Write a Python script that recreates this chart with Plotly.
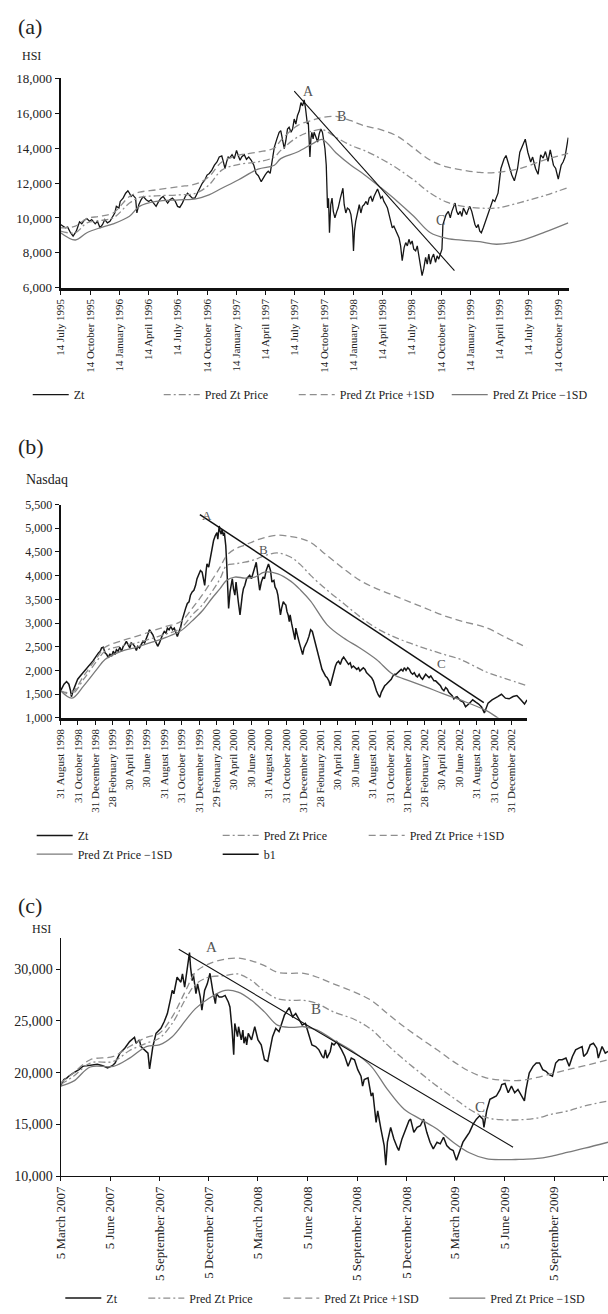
import plotly.graph_objects as go

W, H = 608, 1314
FONT = "Liberation Serif"

# ---------------- (a) HSI, July 1995 - November 1999 ----------------
a_zt = [
    ("1995-07-14", 9627), ("1995-07-29", 9438), ("1995-08-05", 9476), ("1995-08-14", 9155),
    ("1995-08-22", 8966), ("1995-09-01", 9249), ("1995-09-11", 9778), ("1995-09-18", 9665),
    ("1995-09-25", 9854), ("1995-10-04", 9967), ("1995-10-12", 9816), ("1995-10-19", 9910),
    ("1995-10-30", 9665), ("1995-11-06", 9816), ("1995-11-14", 9438), ("1995-11-22", 9627),
    ("1995-11-29", 9910), ("1995-12-07", 9721), ("1995-12-15", 9816), ("1995-12-23", 10099),
    ("1995-12-30", 10288), ("1996-01-04", 10666), ("1996-01-12", 10571), ("1996-01-16", 10949),
    ("1996-01-25", 11138), ("1996-02-02", 11421), ("1996-02-09", 11554), ("1996-02-14", 11421),
    ("1996-02-19", 11233), ("1996-02-24", 11327), ("1996-03-04", 11138), ("1996-03-08", 10288),
    ("1996-03-14", 10760), ("1996-03-21", 11044), ("1996-03-28", 11233), ("1996-04-06", 11044),
    ("1996-04-14", 10949), ("1996-04-21", 11044), ("1996-04-28", 10855), ("1996-05-07", 10666),
    ("1996-05-15", 10949), ("1996-05-22", 11138), ("1996-05-29", 11233), ("1996-06-05", 11044),
    ("1996-06-12", 10855), ("1996-06-19", 11044), ("1996-06-27", 11138), ("1996-07-06", 10949),
    ("1996-07-13", 10666), ("1996-07-20", 10609), ("1996-07-28", 10855), ("1996-08-06", 11233),
    ("1996-08-13", 11421), ("1996-08-20", 11289), ("1996-08-28", 11138), ("1996-09-05", 11138),
    ("1996-09-12", 11421), ("1996-09-20", 11705), ("1996-09-28", 11988), ("1996-10-06", 12177),
    ("1996-10-13", 12460), ("1996-10-20", 12555), ("1996-10-28", 12744), ("1996-11-05", 13027),
    ("1996-11-13", 13216), ("1996-11-20", 13499), ("1996-11-28", 13556), ("1996-12-03", 13216),
    ("1996-12-08", 12838), ("1996-12-13", 13216), ("1996-12-18", 13499), ("1996-12-23", 13443),
    ("1996-12-30", 13632), ("1997-01-06", 13405), ("1997-01-13", 13877), ("1997-01-18", 13594),
    ("1997-01-24", 13310), ("1997-01-29", 13499), ("1997-02-06", 13632), ("1997-02-13", 13367),
    ("1997-02-20", 13499), ("1997-02-28", 13310), ("1997-03-08", 13027), ("1997-03-15", 12555),
    ("1997-03-22", 12423), ("1997-03-31", 12082), ("1997-04-05", 12271), ("1997-04-12", 12460),
    ("1997-04-18", 12612), ("1997-04-22", 12687), ("1997-04-28", 12555), ("1997-05-05", 13405),
    ("1997-05-11", 14066), ("1997-05-19", 14538), ("1997-05-26", 14916), ("1997-05-31", 15011),
    ("1997-06-06", 14538), ("1997-06-11", 13972), ("1997-06-16", 14444), ("1997-06-21", 15105),
    ("1997-06-26", 15200), ("1997-07-02", 14916), ("1997-07-07", 15105), ("1997-07-12", 15672),
    ("1997-07-17", 15389), ("1997-07-22", 15860), ("1997-07-28", 16144), ("1997-08-02", 16616),
    ("1997-08-07", 16427), ("1997-08-12", 16767), ("1997-08-16", 16333), ("1997-08-20", 15766),
    ("1997-08-22", 15389), ("1997-08-25", 15483), ("1997-08-30", 13499), ("1997-09-02", 14538),
    ("1997-09-05", 14916), ("1997-09-09", 14538), ("1997-09-12", 14916), ("1997-09-18", 14633),
    ("1997-09-23", 14350), ("1997-09-28", 14822), ("1997-10-03", 15105), ("1997-10-08", 14916),
    ("1997-10-11", 14633), ("1997-10-16", 13972), ("1997-10-20", 13027), ("1997-10-24", 10571),
    ("1997-10-27", 11138), ("1997-10-30", 9155), ("1997-11-03", 10760), ("1997-11-07", 11138),
    ("1997-11-11", 10382), ("1997-11-16", 10005), ("1997-11-22", 10382), ("1997-11-26", 10571),
    ("1997-12-03", 11138), ("1997-12-07", 11421), ("1997-12-11", 11705), ("1997-12-15", 10760),
    ("1997-12-20", 10288), ("1997-12-25", 10571), ("1997-12-31", 10477), ("1998-01-05", 10194),
    ("1998-01-10", 9438), ("1998-01-13", 8116), ("1998-01-16", 9249), ("1998-01-20", 9816),
    ("1998-01-26", 10382), ("1998-01-31", 10760), ("1998-02-05", 10288), ("1998-02-10", 10666),
    ("1998-02-15", 10760), ("1998-02-21", 10949), ("1998-02-26", 10760), ("1998-03-03", 11138),
    ("1998-03-08", 11233), ("1998-03-13", 10949), ("1998-03-18", 11233), ("1998-03-24", 11516),
    ("1998-03-29", 11667), ("1998-04-03", 11421), ("1998-04-08", 11138), ("1998-04-13", 11233),
    ("1998-04-18", 10949), ("1998-04-24", 10760), ("1998-04-29", 10571), ("1998-05-04", 10194),
    ("1998-05-09", 9816), ("1998-05-14", 9438), ("1998-05-19", 9532), ("1998-05-25", 9249),
    ("1998-05-30", 9060), ("1998-06-04", 8871), ("1998-06-09", 8399), ("1998-06-14", 7549),
    ("1998-06-20", 8305), ("1998-06-25", 8588), ("1998-06-30", 8399), ("1998-07-05", 8777),
    ("1998-07-10", 8494), ("1998-07-15", 8683), ("1998-07-20", 8210), ("1998-07-26", 8116),
    ("1998-07-31", 8399), ("1998-08-05", 7832), ("1998-08-10", 7360), ("1998-08-15", 6699),
    ("1998-08-20", 7077), ("1998-08-26", 7738), ("1998-08-31", 7360), ("1998-09-05", 7927),
    ("1998-09-10", 7360), ("1998-09-15", 7738), ("1998-09-20", 7927), ("1998-09-26", 7455),
    ("1998-10-01", 7832), ("1998-10-06", 7643), ("1998-10-11", 7927), ("1998-10-16", 8210),
    ("1998-10-19", 9627), ("1998-10-23", 9816), ("1998-10-29", 10194), ("1998-11-05", 10382),
    ("1998-11-11", 10005), ("1998-11-16", 10382), ("1998-11-21", 10571), ("1998-11-26", 10855),
    ("1998-12-01", 10382), ("1998-12-06", 10194), ("1998-12-12", 10382), ("1998-12-17", 10099),
    ("1998-12-22", 10571), ("1998-12-27", 10382), ("1999-01-01", 10194), ("1999-01-06", 10477),
    ("1999-01-11", 10666), ("1999-01-17", 10382), ("1999-01-22", 10005), ("1999-01-27", 9627),
    ("1999-02-01", 9438), ("1999-02-06", 9627), ("1999-02-11", 9249), ("1999-02-16", 9155),
    ("1999-02-22", 9438), ("1999-02-27", 9721), ("1999-03-04", 10005), ("1999-03-09", 10194),
    ("1999-03-14", 10571), ("1999-03-19", 10760), ("1999-03-24", 11044), ("1999-03-30", 10949),
    ("1999-04-04", 11233), ("1999-04-09", 11421), ("1999-04-18", 12839), ("1999-04-28", 13398),
    ("1999-05-04", 13584), ("1999-05-13", 13025), ("1999-05-22", 12466), ("1999-05-30", 12130),
    ("1999-06-09", 12839), ("1999-06-16", 13770), ("1999-06-25", 14143), ("1999-07-03", 14516),
    ("1999-07-11", 13770), ("1999-07-20", 13212), ("1999-07-26", 13491), ("1999-08-04", 12839),
    ("1999-08-12", 12503), ("1999-08-20", 13621), ("1999-08-28", 13435), ("1999-09-04", 13808),
    ("1999-09-12", 13249), ("1999-09-19", 13900), ("1999-09-29", 13025), ("1999-10-06", 12839),
    ("1999-10-14", 12224), ("1999-10-23", 13025), ("1999-10-29", 13212), ("1999-11-04", 13491),
    ("1999-11-14", 14609),
]
a_band_dates = [
    "1995-07-14", "1995-08-29", "1995-10-04", "1995-11-14", "1995-12-25", "1996-02-14",
    "1996-03-16", "1996-05-07", "1996-07-18", "1996-09-08", "1996-10-19", "1996-11-28",
    "1997-01-18", "1997-03-21", "1997-05-11", "1997-05-31", "1997-07-22", "1997-09-12",
    "1997-10-08", "1997-11-19", "1998-01-05", "1998-02-15", "1998-04-08", "1998-05-30",
    "1998-07-20", "1998-09-10", "1998-10-31", "1998-12-22", "1999-02-11", "1999-04-04",
    "1999-06-19", "1999-09-04", "1999-11-14",
]
a_pred = [9249, 9155, 9721, 9854, 10005, 10855, 11176, 11270, 11327, 11421, 11894, 12744,
          13065, 13216, 13499, 13877, 14633, 15011, 15067, 14633, 14161, 13877, 13405, 12838,
          12177, 11421, 10911, 10666, 10571, 10571, 10900, 11300, 11750]
a_up = [9438, 9532, 9967, 10099, 10288, 11233, 11478, 11610, 11799, 11950, 12366, 13216,
        13594, 13783, 14010, 14444, 15294, 15634, 15766, 15823, 15577, 15294, 15067, 14689,
        14010, 13310, 12933, 12744, 12612, 12612, 12850, 13350, 13700]
a_lo = [9155, 8739, 9155, 9438, 9665, 10099, 10666, 10949, 11044, 11100, 11327, 11705,
        12177, 12800, 13027, 13405, 13783, 14312, 14500, 13745, 13027, 12498, 11742, 10949,
        10099, 9155, 8834, 8720, 8645, 8494, 8700, 9200, 9720]
a_trend_dates = ["1997-07-12", "1998-11-24"]
a_trend_vals = [17277, 6982]
a_mark_text = ["A", "B", "C"]
a_mark_dates = ["1997-08-27", "1997-12-07", "1998-10-11"]
a_mark_vals = [17277, 15823, 9854]
a_tick_dates = ["1995-07-14", "1995-10-14", "1996-01-14", "1996-04-14", "1996-07-14",
                "1996-10-14", "1997-01-14", "1997-04-14", "1997-07-14", "1997-10-14",
                "1998-01-14", "1998-04-14", "1998-07-14", "1998-10-14", "1999-01-14",
                "1999-04-14", "1999-07-14", "1999-10-14"]
a_tick_text = ["14 July 1995", "14 October 1995", "14 January 1996", "14 April 1996",
               "14 July 1996", "14 October 1996", "14 January 1997", "14 April 1997",
               "14 July 1997", "14 October 1997", "14 January 1998", "14 April 1998",
               "14 July 1998", "14 October 1998", "14 January 1999", "14 April 1999",
               "14 July 1999", "14 October 1999"]

# ---------------- (b) Nasdaq, August 1998 - February 2003 ----------------
b_zt = [
    ("1998-08-31", 1570), ("1998-09-06", 1640), ("1998-09-12", 1709), ("1998-09-21", 1765),
    ("1998-09-29", 1709), ("1998-10-05", 1570), ("1998-10-08", 1445), ("1998-10-14", 1570),
    ("1998-10-22", 1709), ("1998-10-30", 1814), ("1998-11-08", 1883), ("1998-11-18", 1953),
    ("1998-11-26", 2022), ("1998-12-04", 2057), ("1998-12-13", 2127), ("1998-12-22", 2196),
    ("1998-12-30", 2266), ("1999-01-05", 2335), ("1999-01-11", 2370), ("1999-01-17", 2405),
    ("1999-01-22", 2474), ("1999-01-28", 2488), ("1999-02-03", 2370), ("1999-02-09", 2335),
    ("1999-02-15", 2266), ("1999-02-20", 2349), ("1999-02-26", 2301), ("1999-03-04", 2405),
    ("1999-03-10", 2335), ("1999-03-15", 2440), ("1999-03-21", 2405), ("1999-03-27", 2488),
    ("1999-04-02", 2405), ("1999-04-08", 2509), ("1999-04-13", 2544), ("1999-04-19", 2614),
    ("1999-04-25", 2544), ("1999-05-01", 2474), ("1999-05-06", 2579), ("1999-05-12", 2558),
    ("1999-05-18", 2509), ("1999-05-24", 2419), ("1999-05-29", 2509), ("1999-06-04", 2474),
    ("1999-06-10", 2544), ("1999-06-16", 2614), ("1999-06-22", 2579), ("1999-06-27", 2683),
    ("1999-07-03", 2753), ("1999-07-09", 2857), ("1999-07-15", 2808), ("1999-07-21", 2753),
    ("1999-07-26", 2669), ("1999-08-01", 2579), ("1999-08-07", 2509), ("1999-08-13", 2579),
    ("1999-08-18", 2683), ("1999-08-24", 2753), ("1999-08-30", 2822), ("1999-09-05", 2787),
    ("1999-09-10", 2892), ("1999-09-16", 2857), ("1999-09-22", 2927), ("1999-09-28", 2857),
    ("1999-10-04", 2892), ("1999-10-09", 2822), ("1999-10-15", 2718), ("1999-10-21", 2822),
    ("1999-10-27", 2927), ("1999-11-01", 3066), ("1999-11-07", 3205), ("1999-11-13", 3309),
    ("1999-11-19", 3413), ("1999-11-25", 3448), ("1999-11-30", 3587), ("1999-12-06", 3657),
    ("1999-12-12", 3692), ("1999-12-18", 3796), ("1999-12-23", 3935), ("1999-12-29", 4005),
    ("2000-01-04", 4109), ("2000-01-10", 4074), ("2000-01-16", 3865), ("2000-01-19", 3796),
    ("2000-01-24", 4109), ("2000-01-27", 4248), ("2000-02-02", 4178), ("2000-02-08", 4387),
    ("2000-02-13", 4561), ("2000-02-19", 4735), ("2000-02-25", 4839), ("2000-03-02", 4909),
    ("2000-03-05", 4770), ("2000-03-10", 5048), ("2000-03-13", 4943), ("2000-03-17", 4874),
    ("2000-03-20", 4978), ("2000-03-25", 4839), ("2000-03-28", 4909), ("2000-04-02", 4631),
    ("2000-04-05", 4283), ("2000-04-09", 3865), ("2000-04-12", 3309), ("2000-04-17", 3657),
    ("2000-04-20", 3796), ("2000-04-25", 3935), ("2000-04-29", 3726), ("2000-05-04", 3587),
    ("2000-05-08", 3865), ("2000-05-11", 3657), ("2000-05-16", 3448), ("2000-05-22", 3170),
    ("2000-05-25", 3379), ("2000-05-30", 3587), ("2000-06-03", 3726), ("2000-06-08", 3796),
    ("2000-06-14", 3935), ("2000-06-20", 3970), ("2000-06-25", 4005), ("2000-07-01", 3935),
    ("2000-07-07", 4039), ("2000-07-13", 4178), ("2000-07-18", 4283), ("2000-07-24", 4005),
    ("2000-07-30", 3692), ("2000-08-05", 3865), ("2000-08-11", 3970), ("2000-08-16", 3935),
    ("2000-08-22", 4109), ("2000-08-30", 4248), ("2000-09-06", 4109), ("2000-09-11", 3865),
    ("2000-09-18", 3900), ("2000-09-22", 3761), ("2000-09-28", 3692), ("2000-10-02", 3587),
    ("2000-10-07", 3379), ("2000-10-11", 3170), ("2000-10-15", 3309), ("2000-10-21", 3448),
    ("2000-10-25", 3413), ("2000-10-30", 3379), ("2000-11-03", 3240), ("2000-11-07", 3170),
    ("2000-11-11", 3031), ("2000-11-14", 3170), ("2000-11-19", 2996), ("2000-11-23", 2892),
    ("2000-11-26", 2753), ("2000-12-01", 2648), ("2000-12-04", 2892), ("2000-12-08", 2753),
    ("2000-12-12", 2683), ("2000-12-18", 2544), ("2000-12-24", 2440), ("2000-12-28", 2335),
    ("2001-01-02", 2474), ("2001-01-08", 2544), ("2001-01-13", 2614), ("2001-01-19", 2718),
    ("2001-01-25", 2857), ("2001-01-31", 2822), ("2001-02-06", 2683), ("2001-02-11", 2544),
    ("2001-02-17", 2405), ("2001-02-23", 2266), ("2001-03-01", 2127), ("2001-03-06", 2022),
    ("2001-03-12", 1953), ("2001-03-18", 1883), ("2001-03-24", 1848), ("2001-03-30", 1779),
    ("2001-04-04", 1675), ("2001-04-10", 1814), ("2001-04-16", 1988), ("2001-04-22", 2092),
    ("2001-04-27", 2161), ("2001-05-03", 2196), ("2001-05-09", 2127), ("2001-05-15", 2231),
    ("2001-05-21", 2280), ("2001-05-26", 2231), ("2001-06-01", 2196), ("2001-06-07", 2127),
    ("2001-06-13", 2161), ("2001-06-18", 2057), ("2001-06-24", 2092), ("2001-06-30", 2057),
    ("2001-07-06", 2022), ("2001-07-12", 2057), ("2001-07-17", 1988), ("2001-07-23", 2022),
    ("2001-07-29", 2057), ("2001-08-04", 2022), ("2001-08-09", 1953), ("2001-08-15", 1918),
    ("2001-08-21", 1883), ("2001-08-27", 1848), ("2001-09-02", 1779), ("2001-09-07", 1675),
    ("2001-09-13", 1570), ("2001-09-19", 1487), ("2001-09-25", 1431), ("2001-09-30", 1536),
    ("2001-10-06", 1605), ("2001-10-12", 1675), ("2001-10-18", 1709), ("2001-10-23", 1744),
    ("2001-10-29", 1779), ("2001-11-04", 1814), ("2001-11-10", 1883), ("2001-11-16", 1918),
    ("2001-11-21", 1918), ("2001-11-27", 1953), ("2001-12-03", 1988), ("2001-12-09", 2022),
    ("2001-12-15", 1988), ("2001-12-20", 2057), ("2001-12-26", 2002), ("2002-01-01", 2057),
    ("2002-01-07", 2022), ("2002-01-12", 1953), ("2002-01-18", 1918), ("2002-01-24", 1953),
    ("2002-01-30", 1883), ("2002-02-04", 1862), ("2002-02-10", 1918), ("2002-02-16", 1848),
    ("2002-02-22", 1814), ("2002-02-28", 1883), ("2002-03-05", 1918), ("2002-03-11", 1883),
    ("2002-03-17", 1848), ("2002-03-23", 1883), ("2002-03-29", 1814), ("2002-04-03", 1779),
    ("2002-04-09", 1779), ("2002-04-15", 1744), ("2002-04-21", 1709), ("2002-04-26", 1675),
    ("2002-05-02", 1605), ("2002-05-08", 1570), ("2002-05-14", 1640), ("2002-05-20", 1605),
    ("2002-05-25", 1536), ("2002-05-31", 1501), ("2002-06-06", 1466), ("2002-06-12", 1396),
    ("2002-06-17", 1431), ("2002-06-23", 1445), ("2002-06-29", 1396), ("2002-07-05", 1362),
    ("2002-07-15", 1330), ("2002-07-23", 1230), ("2002-08-05", 1300), ("2002-08-17", 1379),
    ("2002-08-28", 1330), ("2002-09-07", 1290), ("2002-09-17", 1230), ("2002-09-27", 1103),
    ("2002-10-10", 1310), ("2002-10-24", 1379), ("2002-11-13", 1448), ("2002-11-26", 1497),
    ("2002-12-10", 1414), ("2002-12-23", 1400), ("2003-01-06", 1448), ("2003-01-19", 1469),
    ("2003-02-02", 1379), ("2003-02-15", 1290), ("2003-02-24", 1379),
]
b_band_dates = [
    "1998-08-31", "1998-10-10", "1998-11-20", "1999-01-05", "1999-02-03", "1999-03-27",
    "1999-05-24", "1999-07-21", "1999-09-05", "1999-10-27", "1999-12-06", "2000-01-10",
    "2000-02-13", "2000-03-13", "2000-04-05", "2000-05-04", "2000-06-08", "2000-07-13",
    "2000-08-16", "2000-10-02", "2000-11-17", "2000-12-21", "2001-01-25", "2001-03-24",
    "2001-05-21", "2001-07-17", "2001-09-13", "2001-11-10", "2002-01-07", "2002-03-05",
    "2002-05-02", "2002-07-05", "2002-10-04", "2002-12-10", "2003-02-24",
]
b_pred = [1570, 1501, 1814, 2196, 2405, 2509, 2579, 2683, 2767, 2892, 3170, 3379, 3657,
          3935, 4213, 4248, 4283, 4338, 4422, 4478, 4387, 4227, 4005, 3692, 3413, 3135,
          2892, 2718, 2579, 2461, 2349, 2231, 1966, 1828, 1676]
b_up = [1570, 1536, 1883, 2266, 2488, 2614, 2718, 2836, 2927, 3031, 3309, 3587, 3900,
        4178, 4422, 4561, 4644, 4735, 4804, 4853, 4825, 4784, 4700, 4422, 4144, 3900,
        3726, 3587, 3448, 3309, 3170, 3045, 2900, 2700, 2480]
b_lo = [1570, 1417, 1675, 2022, 2231, 2391, 2488, 2600, 2697, 2836, 3045, 3253, 3518,
        3726, 3900, 3970, 3949, 3970, 4074, 4039, 3879, 3692, 3462, 2961, 2683, 2474,
        2231, 1918, 1779, 1654, 1515, 1376, 1150, 900, 700]
b_trend_dates = ["2000-01-02", "2002-09-25"]
b_trend_vals = [5290, 1320]
b_mark_text = ["A", "B", "C"]
b_mark_dates = ["2000-01-27", "2000-08-13", "2002-04-29"]
b_mark_vals = [5270, 4561, 2141]
b_tick_dates = ["1998-08-31", "1998-10-31", "1998-12-31", "1999-02-28", "1999-04-30",
                "1999-06-30", "1999-08-31", "1999-10-31", "1999-12-31", "2000-02-29",
                "2000-04-30", "2000-06-30", "2000-08-31", "2000-10-31", "2000-12-31",
                "2001-02-28", "2001-04-30", "2001-06-30", "2001-08-31", "2001-10-31",
                "2001-12-31", "2002-02-28", "2002-04-30", "2002-06-30", "2002-08-31",
                "2002-10-31", "2002-12-31"]
b_tick_text = ["31 August 1998", "31 October 1998", "31 December 1998", "28 February 1999",
               "30 April 1999", "30 June 1999", "31 August 1999", "31 October 1999",
               "31 December 1999", "29 February 2000", "30 April 2000", "30 June 2000",
               "31 August 2000", "31 October 2000", "31 December 2000", "28 February 2001",
               "30 April 2001", "30 June 2001", "31 August 2001", "31 October 2001",
               "31 December 2001", "28 February 2002", "30 April 2002", "30 June 2002",
               "31 August 2002", "31 October 2002", "31 December 2002"]

# ---------------- (c) HSI, March 2007 - December 2009 ----------------
c_zt = [
    ("2007-03-05", 18695), ("2007-03-11", 19332), ("2007-03-17", 19491), ("2007-03-20", 19651),
    ("2007-03-29", 19969), ("2007-04-08", 20288), ("2007-04-15", 20606), ("2007-04-24", 20670),
    ("2007-05-04", 20765), ("2007-05-12", 20797), ("2007-05-22", 20670), ("2007-05-31", 20447),
    ("2007-06-09", 20670), ("2007-06-14", 20925), ("2007-06-23", 21880), ("2007-07-02", 22358),
    ("2007-07-11", 22995), ("2007-07-20", 23409), ("2007-07-23", 22836), ("2007-07-29", 23154),
    ("2007-08-01", 22517), ("2007-08-07", 22199), ("2007-08-14", 21880), ("2007-08-17", 20351),
    ("2007-08-23", 22517), ("2007-08-29", 23791), ("2007-09-07", 24269), ("2007-09-13", 24906),
    ("2007-09-19", 25702), ("2007-09-25", 27135), ("2007-09-28", 27932), ("2007-10-01", 27613),
    ("2007-10-07", 29206), ("2007-10-14", 28728), ("2007-10-17", 29524), ("2007-10-21", 28250),
    ("2007-10-28", 30798), ("2007-10-30", 31594), ("2007-11-01", 30161), ("2007-11-04", 28887),
    ("2007-11-06", 29524), ("2007-11-11", 27613), ("2007-11-14", 28569), ("2007-11-19", 27294),
    ("2007-11-22", 26020), ("2007-11-27", 27932), ("2007-12-02", 28569), ("2007-12-07", 29588),
    ("2007-12-12", 27932), ("2007-12-17", 26658), ("2007-12-19", 27613), ("2007-12-24", 27294),
    ("2007-12-29", 27294), ("2008-01-04", 27454), ("2008-01-10", 26817), ("2008-01-13", 26339),
    ("2008-01-17", 24110), ("2008-01-20", 21721), ("2008-01-22", 24747), ("2008-01-27", 23473),
    ("2008-01-29", 24429), ("2008-02-03", 23154), ("2008-02-06", 24110), ("2008-02-08", 22836),
    ("2008-02-11", 23473), ("2008-02-13", 22676), ("2008-02-16", 23791), ("2008-02-22", 23154),
    ("2008-02-28", 24429), ("2008-03-05", 23154), ("2008-03-11", 22676), ("2008-03-14", 22039),
    ("2008-03-17", 21243), ("2008-03-23", 21084), ("2008-03-26", 21880), ("2008-04-01", 23473),
    ("2008-04-07", 24269), ("2008-04-13", 23950), ("2008-04-16", 24429), ("2008-04-23", 25543),
    ("2008-05-02", 26275), ("2008-05-08", 25384), ("2008-05-14", 25702), ("2008-05-20", 25065),
    ("2008-05-26", 24587), ("2008-06-01", 24747), ("2008-06-07", 23791), ("2008-06-13", 22676),
    ("2008-06-20", 22517), ("2008-06-26", 22199), ("2008-07-02", 21562), ("2008-07-05", 21402),
    ("2008-07-08", 22199), ("2008-07-11", 21402), ("2008-07-17", 22039), ("2008-07-20", 22836),
    ("2008-07-24", 22676), ("2008-07-29", 22995), ("2008-08-07", 22199), ("2008-08-13", 21562),
    ("2008-08-19", 20606), ("2008-08-25", 21402), ("2008-08-31", 21243), ("2008-09-06", 20288),
    ("2008-09-12", 19651), ("2008-09-15", 18695), ("2008-09-18", 19332), ("2008-09-25", 19491),
    ("2008-10-01", 17740), ("2008-10-04", 18058), ("2008-10-10", 15192), ("2008-10-13", 16306),
    ("2008-10-19", 14555), ("2008-10-25", 12962), ("2008-10-28", 11051), ("2008-10-31", 13281),
    ("2008-11-06", 14714), ("2008-11-12", 13599), ("2008-11-18", 12803), ("2008-11-21", 12484),
    ("2008-11-27", 13599), ("2008-12-04", 14555), ("2008-12-10", 15351), ("2008-12-13", 15510),
    ("2008-12-19", 14236), ("2008-12-25", 14714), ("2008-12-31", 14873), ("2009-01-06", 15510),
    ("2009-01-12", 14236), ("2009-01-18", 13281), ("2009-01-24", 12644), ("2009-01-31", 13281),
    ("2009-02-06", 13122), ("2009-02-12", 13758), ("2009-02-18", 12962), ("2009-02-24", 12644),
    ("2009-03-02", 12484), ("2009-03-08", 11529), ("2009-03-14", 12484), ("2009-03-20", 13281),
    ("2009-03-26", 13758), ("2009-04-01", 14236), ("2009-04-08", 15032), ("2009-04-14", 15510),
    ("2009-04-20", 15829), ("2009-04-26", 15510), ("2009-04-28", 14714), ("2009-05-03", 16306),
    ("2009-05-09", 17421), ("2009-05-15", 17580), ("2009-05-21", 17740), ("2009-05-28", 18377),
    ("2009-05-31", 18854), ("2009-06-06", 18950), ("2009-06-12", 18058), ("2009-06-18", 18695),
    ("2009-06-24", 18058), ("2009-06-30", 18377), ("2009-07-06", 17740), ("2009-07-12", 17262),
    ("2009-07-15", 18377), ("2009-07-21", 19969), ("2009-07-28", 20606), ("2009-08-03", 20925),
    ("2009-08-09", 20925), ("2009-08-15", 20288), ("2009-08-21", 20128), ("2009-08-27", 19810),
    ("2009-09-02", 19651), ("2009-09-08", 20925), ("2009-09-14", 21243), ("2009-09-20", 21243),
    ("2009-09-27", 21402), ("2009-10-03", 20606), ("2009-10-09", 21562), ("2009-10-15", 22199),
    ("2009-10-21", 22358), ("2009-10-27", 22517), ("2009-10-30", 21562), ("2009-11-05", 21880),
    ("2009-11-11", 22676), ("2009-11-17", 22836), ("2009-11-23", 22358), ("2009-11-26", 21402),
    ("2009-12-03", 22517), ("2009-12-09", 21880), ("2009-12-14", 22039),
]
c_band_dates = [
    "2007-03-05", "2007-03-29", "2007-04-29", "2007-06-11", "2007-07-11", "2007-08-11",
    "2007-09-04", "2007-09-28", "2007-10-23", "2007-11-10", "2007-12-04", "2008-01-04",
    "2008-01-28", "2008-02-22", "2008-03-17", "2008-04-10", "2008-05-05", "2008-05-29",
    "2008-06-23", "2008-07-23", "2008-08-31", "2008-10-01", "2008-10-31", "2008-12-01",
    "2008-12-31", "2009-01-31", "2009-03-02", "2009-04-01", "2009-05-02", "2009-06-01",
    "2009-07-02", "2009-08-01", "2009-09-01", "2009-10-01", "2009-11-01", "2009-12-14",
]
c_pred = [18854, 19651, 20925, 21084, 22135, 22836, 23313, 24747, 27135, 28505, 29206, 29365,
          29524, 28887, 27868, 27135, 26976, 26976, 26658, 25861, 25129, 24173, 22676, 21243,
          19969, 18695, 17580, 16466, 15669, 15446, 15446, 15574, 15988, 16306, 16784, 17262]
c_up = [19014, 19969, 21243, 21562, 22517, 23409, 23791, 25384, 27932, 29683, 30480, 30957,
        31053, 30798, 30320, 29683, 29588, 29588, 29206, 28569, 27772, 26976, 25702, 24429,
        23313, 22199, 21084, 20128, 19491, 19268, 19237, 19491, 19905, 20288, 20670, 21243]
c_lo = [18695, 19173, 20542, 20606, 21402, 22517, 22676, 23473, 25065, 26180, 27135, 27932,
        27772, 26976, 25861, 24587, 24364, 24429, 24110, 23154, 21943, 20606, 18377, 16466,
        15510, 14555, 13281, 12261, 11688, 11593, 11624, 11688, 11943, 12325, 12707, 13281]
c_trend_dates = ["2007-10-10", "2009-06-21"]
c_trend_vals = [31913, 12803]
c_mark_text = ["A", "B", "C"]
c_mark_dates = ["2007-12-10", "2008-06-20", "2009-04-21"]
c_mark_vals = [32136, 26180, 16720]
c_tick_dates = ["2007-03-05", "2007-06-05", "2007-09-05", "2007-12-05", "2008-03-05",
                "2008-06-05", "2008-09-05", "2008-12-05", "2009-03-05", "2009-06-05",
                "2009-09-05", "2009-12-05"]
c_tick_text = ["5 March 2007", "5 June 2007", "5 September 2007", "5 December 2007",
               "5 March 2008", "5 June 2008", "5 September 2008", "5 December 2008",
               "5 March 2009", "5 June 2009", "5 September 2009", "5 December 2009"]

SERIES_NAMES = ["Zt", "Pred Zt Price", "Pred Zt Price +1SD", "Pred Zt Price \u22121SD", "b1"]


def px(p):
    return p / W


def py(p):
    return 1 - p / H


fig = go.Figure()

PRED_STYLE = dict(color="#8e8e8e", width=1.3, dash="7px,3px,2px,3px")
UP_STYLE = dict(color="#8e8e8e", width=1.3, dash="7px,4px")
LO_STYLE = dict(color="#7a7a7a", width=1.3)


def add_panel(ax, zt, band_dates, pred, up, lo, trend_d, trend_v,
              legends, widths, trend_in_legend, trend_width, zt_width):
    xa, ya = ("x", "y") if ax == 1 else (f"x{ax}", f"y{ax}")
    zd = [d for d, _ in zt]
    zv = [v for _, v in zt]
    series = [
        (zd, zv, dict(color="#161616", width=zt_width), "linear"),
        (band_dates, pred, PRED_STYLE, "spline"),
        (band_dates, up, UP_STYLE, "spline"),
        (band_dates, lo, LO_STYLE, "spline"),
    ]
    for i, (xs, ys, st, shape) in enumerate(series):
        kw = dict(x=xs, y=ys, mode="lines", name=SERIES_NAMES[i],
                  line=dict(shape=shape, **st), xaxis=xa, yaxis=ya,
                  legend=legends[i], showlegend=True, hoverinfo="skip")
        if widths[i]:
            kw["legendwidth"] = widths[i]
        fig.add_trace(go.Scatter(**kw))
    kw = dict(x=trend_d, y=trend_v, mode="lines", name=SERIES_NAMES[4],
              line=dict(color="#111111", width=trend_width), xaxis=xa, yaxis=ya,
              showlegend=trend_in_legend, hoverinfo="skip")
    if trend_in_legend:
        kw["legend"] = legends[4]
    fig.add_trace(go.Scatter(**kw))


add_panel(1, a_zt, a_band_dates, a_pred, a_up, a_lo, a_trend_dates, a_trend_vals,
          ["legend"] * 4, [80, 84, 102, None], False, 1.1, 1.3)
add_panel(2, b_zt, b_band_dates, b_pred, b_up, b_lo, b_trend_dates, b_trend_vals,
          ["legend2", "legend2", "legend2", "legend3", "legend3"],
          [135, 95, None, 135], True, 1.5, 1.5)
add_panel(3, c_zt, c_band_dates, c_pred, c_up, c_lo, c_trend_dates, c_trend_vals,
          ["legend4"] * 4, [32, 84, 115, None], False, 1.1, 1.5)


def xaxis(dom, anchor, rng, tv, tt, size, lw):
    return dict(domain=dom, anchor=anchor, type="date", range=rng,
                tickmode="array", tickvals=tv, ticktext=tt, tickangle=-90,
                ticks="outside", ticklen=4, tickwidth=1, tickcolor="#111",
                showline=True, linecolor="#111", linewidth=lw,
                showgrid=False, zeroline=False,
                tickfont=dict(family=FONT, size=size, color="#222"))


def yaxis(dom, anchor, rng, dtick, size, lw):
    return dict(domain=dom, anchor=anchor, range=rng, dtick=dtick, tickformat=",d",
                ticks="outside", ticklen=4, tickwidth=1, tickcolor="#111",
                showline=True, linecolor="#111", linewidth=lw,
                showgrid=False, zeroline=False,
                tickfont=dict(family=FONT, size=size, color="#222"))


def legend_box(x, y):
    return dict(orientation="h", x=px(x), xanchor="left", y=py(y), yanchor="middle",
                bgcolor="rgba(0,0,0,0)", borderwidth=0, itemwidth=36,
                tracegroupgap=0, traceorder="normal",
                font=dict(family=FONT, size=12, color="#222"))


annotations = []
for txt, x, y, s in [("(a)", 8, 20, 22), ("HSI", 12, 50, 12),
                     ("(b)", 8, 445, 22), ("Nasdaq", 16, 478, 14),
                     ("(c)", 8, 909, 22), ("HSI", 22, 933, 12)]:
    annotations.append(dict(text=txt, x=px(x), y=py(y), xref="paper", yref="paper",
                            xanchor="left", yanchor="middle", showarrow=False,
                            font=dict(family=FONT, size=s, color="#222")))

for ax, texts, dates, vals, s in [(1, a_mark_text, a_mark_dates, a_mark_vals, 14),
                                  (2, b_mark_text, b_mark_dates, b_mark_vals, 13),
                                  (3, c_mark_text, c_mark_dates, c_mark_vals, 15)]:
    xr, yr = ("x", "y") if ax == 1 else (f"x{ax}", f"y{ax}")
    for t, d, v in zip(texts, dates, vals):
        annotations.append(dict(text=t, x=d, y=v, xref=xr, yref=yr, showarrow=False,
                                font=dict(family=FONT, size=s, color="#555")))

fig.update_layout(
    width=W, height=H,
    margin=dict(l=0, r=0, t=0, b=0),
    paper_bgcolor="white", plot_bgcolor="white",
    font=dict(family=FONT, color="#222"),
    xaxis=xaxis([px(53.3), px(568)], "y", ["1995-07-14", "1999-11-15"],
                a_tick_dates, a_tick_text, 11, 2.5),
    yaxis=yaxis([py(284), py(72.3)], "x", [6000, 18000], 2000, 13, 2),
    xaxis2=xaxis([px(53.3), px(526)], "y2", ["1998-08-31", "2003-02-24"],
                 b_tick_dates, b_tick_text, 11, 2.5),
    yaxis2=yaxis([py(719), py(503.3)], "x2", [1000, 5500], 500, 12, 2),
    xaxis3=xaxis([px(53.3), 1.0], "y3", ["2007-03-05", "2009-12-14"],
                 c_tick_dates, c_tick_text, 13, 1),
    yaxis3=yaxis([py(1182.7), py(941.7)], "x3", [10000, 33000], 5000, 14, 1),
    legend=legend_box(20, 392),
    legend2=legend_box(24, 838),
    legend3=legend_box(24, 857),
    legend4=legend_box(53, 1306),
    annotations=annotations,
)

fig.write_html("out.html")
